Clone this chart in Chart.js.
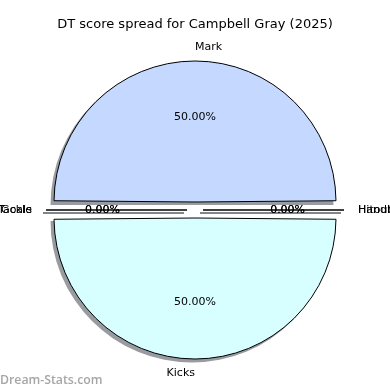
<!DOCTYPE html>
<html>
<head>
<meta charset="utf-8">
<script src="https://cdn.jsdelivr.net/npm/chart.js@4/dist/chart.umd.min.js"></script>
<style>
html,body{margin:0;padding:0;background:#fff;}
#wrap{width:390px;height:390px;}
</style>
</head>
<body>
<div id="wrap"><canvas id="c" width="390" height="390"></canvas></div>
<script>
const titleText = "DT score spread for Campbell Gray (2025)";
const categories = ["Mark", "Hitout", "Handball", "Kicks", "Tackle", "Goals"];
const values = [50, 0, 0, 50, 0, 0];
const colors = ["#c5d8ff", "#d8ffff", "#d8ffff", "#d8ffff", "#c5d8ff", "#c5d8ff"];
const watermark = "Dream-Stats.com";

const EXPLODE = 8;
const RADIUS = 141;
const FONT = "DejaVu Sans, sans-serif";
const SHX = -3, SHY = 3;
const SHADOW = 'rgba(50,55,65,0.5)';

function props(el) {
  const p = el.getProps(['x','y','startAngle','endAngle','outerRadius'], true);
  p.R = p.outerRadius + EXPLODE; // drawn radius (Chart.js grows arc by offset/4)
  p.mid = (p.startAngle + p.endAngle) / 2;
  p.cx = p.x + Math.cos(p.mid) * EXPLODE;
  p.cy = p.y + Math.sin(p.mid) * EXPLODE;
  p.zero = Math.abs(p.endAngle - p.startAngle) < 1e-9;
  return p;
}

const shadowPlugin = {
  id: 'shadowPlugin',
  beforeDatasetsDraw(chart) {
    const ctx = chart.ctx;
    const meta = chart.getDatasetMeta(0);
    ctx.save();
    meta.data.forEach((el) => {
      const p = props(el);
      const cx = p.cx + SHX, cy = p.cy + SHY;
      ctx.beginPath();
      if (p.zero) {
        ctx.moveTo(cx, cy);
        ctx.lineTo(cx + Math.cos(p.mid) * p.R, cy + Math.sin(p.mid) * p.R);
        ctx.strokeStyle = SHADOW;
        ctx.lineWidth = 1.5;
        ctx.stroke();
      } else {
        ctx.moveTo(cx, cy);
        ctx.arc(cx, cy, p.R + 0.5, p.startAngle, p.endAngle);
        ctx.closePath();
        ctx.fillStyle = SHADOW;
        ctx.fill();
      }
    });
    ctx.restore();
  },
  afterDatasetsDraw(chart) {
    const ctx = chart.ctx;
    const meta = chart.getDatasetMeta(0);
    ctx.save();
    meta.data.forEach((el) => {
      const p = props(el);
      if (p.zero) {
        ctx.beginPath();
        ctx.moveTo(p.cx, p.cy);
        ctx.lineTo(p.cx + Math.cos(p.mid) * p.R, p.cy + Math.sin(p.mid) * p.R);
        ctx.strokeStyle = '#000';
        ctx.lineWidth = 1;
        ctx.stroke();
      }
    });
    ctx.restore();
  },
  afterDraw(chart) {
    const ctx = chart.ctx;
    const meta = chart.getDatasetMeta(0);
    const total = values.reduce((s, v) => s + v, 0);
    ctx.save();
    ctx.fillStyle = '#000';
    ctx.font = "13px " + FONT;
    ctx.textAlign = 'center';
    ctx.textBaseline = 'middle';
    ctx.fillText(titleText, 195, 25);
    meta.data.forEach((el, i) => {
      const p = props(el);
      let mpl = (-p.mid) % (2 * Math.PI);
      if (mpl < 0) mpl += 2 * Math.PI;
      ctx.font = "11px " + FONT;
      ctx.textAlign = Math.cos(mpl) > 0 ? 'left' : 'right';
      ctx.textBaseline = 'middle';
      ctx.fillText(categories[i], p.cx + Math.cos(p.mid) * 1.1 * p.R, p.cy + Math.sin(p.mid) * 1.1 * p.R);
      ctx.textAlign = 'center';
      const pct = (values[i] / total * 100).toFixed(2) + '%';
      ctx.fillText(pct, p.cx + Math.cos(p.mid) * 0.6 * p.R, p.cy + Math.sin(p.mid) * 0.6 * p.R);
    });
    ctx.font = "600 12.3px 'Open Sans', sans-serif";
    ctx.fillStyle = '#a6a6a6';
    ctx.textAlign = 'left';
    ctx.textBaseline = 'alphabetic';
    ctx.fillText(watermark, 0, 384);
    ctx.restore();
  }
};

new Chart(document.getElementById('c'), {
  type: 'pie',
  data: {
    labels: categories,
    datasets: [{
      data: values,
      backgroundColor: colors,
      borderColor: '#000',
      borderWidth: 1,
      offset: EXPLODE * 4,
      radius: RADIUS - EXPLODE,
      hoverOffset: 0
    }]
  },
  options: {
    responsive: false,
    animation: false,
    rotation: -90,
    layout: { padding: { top: 30, bottom: 0, left: 0, right: 0 } },
    plugins: {
      legend: { display: false },
      tooltip: { enabled: false },
      title: { display: false }
    },
    events: []
  },
  plugins: [shadowPlugin]
});
</script>
</body>
</html>
